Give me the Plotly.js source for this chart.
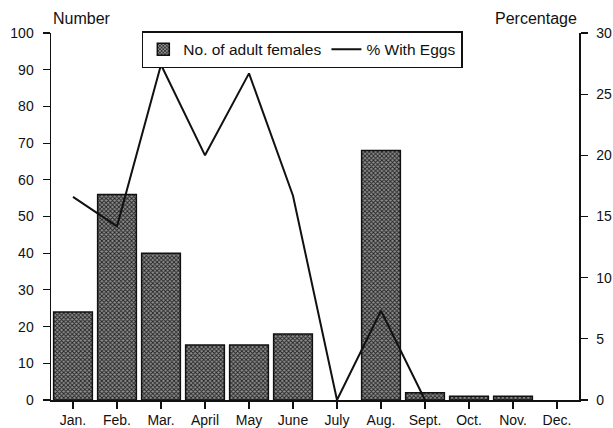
<!DOCTYPE html>
<html>
<head>
<meta charset="utf-8">
<script src="https://cdn.plot.ly/plotly-3.0.1.min.js"></script>
<style>html,body{margin:0;padding:0;background:#fff;}#chart{width:613px;height:428px;}</style>
</head>
<body>
<div id="chart"></div>
<script>
const months = ["Jan.", "Feb.", "Mar.", "April", "May", "June", "July", "Aug.", "Sept.", "Oct.", "Nov.", "Dec."];
const adultFemales = [24, 56, 40, 15, 15, 18, 0, 68, 2, 1, 1, 0];
const pctWithEggs = [16.6, 14.2, 27.4, 20, 26.7, 16.7, 0, 7.3, 0, null, null, null];

const font = "Arial, 'Liberation Sans', sans-serif";

const traces = [
  {
    type: "bar",
    x: months,
    y: adultFemales,
    name: "No. of adult females",
    marker: {
      color: "#808080",
      line: {color: "#111", width: adultFemales.map(v => v > 0 ? 1.5 : 0)},
      pattern: {shape: "x", size: 3, solidity: 0.5, fgcolor: "#222", bgcolor: "#8f8f8f"}
    },
    yaxis: "y"
  },
  {
    type: "scatter",
    mode: "lines",
    x: months,
    y: pctWithEggs,
    name: "% With Eggs",
    line: {color: "#111", width: 2},
    yaxis: "y2",
    connectgaps: false
  }
];

const layout = {
  width: 613,
  height: 428,
  margin: {l: 51, r: 34, t: 33, b: 28},
  paper_bgcolor: "#fff",
  plot_bgcolor: "#fff",
  font: {family: font, color: "#111", size: 14},
  bargap: 0.12,
  showlegend: true,
  legend: {
    orientation: "h",
    x: 0.172, xanchor: "left",
    y: 1.005, yanchor: "top",
    bgcolor: "#fff",
    bordercolor: "#111",
    borderwidth: 1.5,
    font: {family: font, size: 15.5, color: "#111"},
    itemwidth: 30,
    tracegroupgap: 0
  },
  xaxis: {
    type: "category",
    range: [-0.5, 11.5],
    showline: true, linecolor: "#111", linewidth: 1.5,
    ticks: "outside", ticklen: 7, tickcolor: "#111", tickwidth: 1.2,
    showgrid: false, zeroline: false,
    tickfont: {family: font, size: 14, color: "#111"}
  },
  yaxis: {
    range: [0, 100], dtick: 10,
    showline: true, linecolor: "#111", linewidth: 1.5,
    ticks: "outside", ticklen: 7, tickcolor: "#111", tickwidth: 1.2,
    showgrid: false, zeroline: false,
    ticklabelstandoff: 6,
    tickfont: {family: font, size: 14, color: "#111"}
  },
  yaxis2: {
    range: [0, 30], dtick: 5,
    overlaying: "y", side: "right",
    showline: true, linecolor: "#111", linewidth: 1.5,
    ticks: "outside", ticklen: 7, tickcolor: "#111", tickwidth: 1.2,
    showgrid: false, zeroline: false,
    ticklabelstandoff: 6,
    tickfont: {family: font, size: 14, color: "#111"}
  },
  annotations: [
    {text: "Number", xref: "paper", yref: "paper", x: 0, y: 1.04, xanchor: "left", yanchor: "middle",
     showarrow: false, font: {family: font, size: 16, color: "#111"}},
    {text: "Percentage", xref: "paper", yref: "paper", x: 1, y: 1.04, xanchor: "right", yanchor: "middle",
     showarrow: false, font: {family: font, size: 16, color: "#111"}}
  ]
};

Plotly.newPlot("chart", traces, layout, {displayModeBar: false, staticPlot: true});
</script>
</body>
</html>
